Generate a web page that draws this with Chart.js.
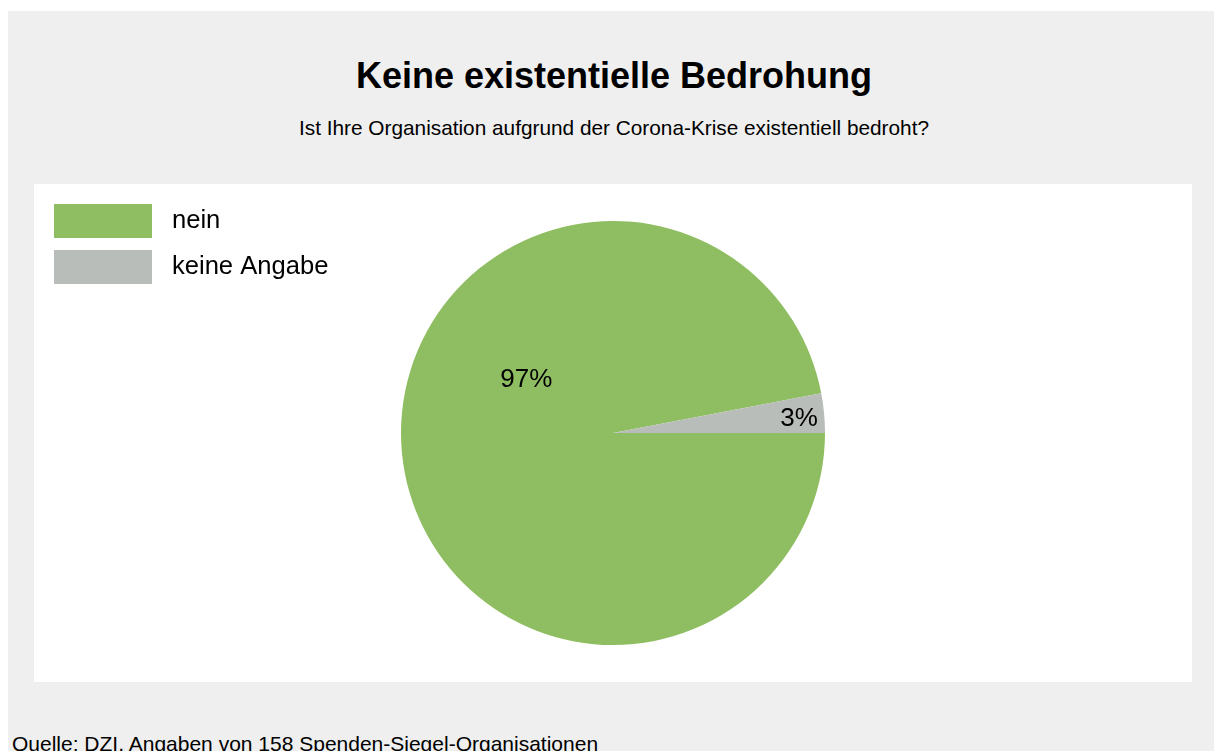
<!DOCTYPE html>
<html>
<head>
<meta charset="utf-8">
<script src="https://cdn.jsdelivr.net/npm/chart.js@4/dist/chart.umd.min.js"></script>
<style>
  html, body { margin: 0; padding: 0; background: #ffffff; overflow: hidden; }
  body { width: 1214px; height: 751px; position: relative; font-family: "Liberation Sans", Arial, sans-serif; }
  #panel { position: absolute; left: 8px; top: 11px; width: 1206px; height: 760px; background: #efefef; }
  #title { position: absolute; left: 0; width: 1228px; top: 56px; text-align: center; font-size: 36px; font-weight: bold; color: #000; margin: 0; line-height: 40px; }
  #subtitle { position: absolute; left: 0; width: 1228px; top: 116px; text-align: center; font-size: 20.8px; color: #000; margin: 0; line-height: 24px; }
  #plot { position: absolute; left: 34px; top: 184px; width: 1158px; height: 498px; background: #ffffff; }
  #source { position: absolute; left: 12px; top: 732px; font-size: 21px; color: #000; white-space: nowrap; line-height: 24px; }
</style>
</head>
<body>
<div id="panel"></div>
<h1 id="title">Keine existentielle Bedrohung</h1>
<p id="subtitle">Ist Ihre Organisation aufgrund der Corona-Krise existentiell bedroht?</p>
<div id="plot"><canvas id="chart" width="1158" height="498"></canvas></div>
<div id="source">Quelle: DZI, Angaben von 158 Spenden-Siegel-Organisationen</div>
<script>
  // --- DATA ---
  const categories = ['nein', 'keine Angabe'];
  const shares = [97, 3];
  const sliceColors = ['#8fbe62', '#b9bdba'];
  const valueLabels = ['97%', '3%'];

  // label placement inside each slice: fraction of radius and angle shift (deg)
  const labelPlacement = [
    { radius: 0.48, shift: 37 },
    { radius: 0.88, shift: 1 }
  ];

  const sliceLabels = {
    id: 'sliceLabels',
    afterDatasetsDraw(chart) {
      const ctx = chart.ctx;
      const meta = chart.getDatasetMeta(0);
      ctx.save();
      ctx.font = '26px "Liberation Sans", Arial, sans-serif';
      ctx.fillStyle = '#000';
      ctx.textAlign = 'center';
      ctx.textBaseline = 'middle';
      meta.data.forEach((arc, i) => {
        const p = arc.getProps(['x', 'y', 'startAngle', 'endAngle', 'outerRadius'], true);
        const mid = (p.startAngle + p.endAngle) / 2 + labelPlacement[i].shift * Math.PI / 180;
        const r = p.outerRadius * labelPlacement[i].radius;
        ctx.fillText(valueLabels[i], p.x + Math.cos(mid) * r, p.y + Math.sin(mid) * r);
      });
      ctx.restore();
    }
  };

  const defaultPieLabels = Chart.overrides.pie.plugins.legend.labels.generateLabels;

  new Chart(document.getElementById('chart'), {
    type: 'pie',
    data: {
      labels: categories,
      datasets: [{
        data: shares,
        backgroundColor: sliceColors,
        borderWidth: 0
      }]
    },
    options: {
      responsive: false,
      animation: false,
      rotation: 90,
      layout: { padding: { left: 8, right: 8, top: 37, bottom: 37 } },
      plugins: {
        tooltip: { enabled: false },
        legend: {
          position: 'chartArea',
          align: 'start',
          title: { display: true, text: '', padding: { top: 8, bottom: 0 }, font: { size: 0, lineHeight: 0 } },
          labels: {
            boxWidth: 98,
            boxHeight: 34,
            padding: 12,
            color: '#000',
            font: { family: '"Liberation Sans", Arial, sans-serif', size: 25.6 },
            // a little more gap between swatch and text
            generateLabels(chart) {
              return defaultPieLabels(chart).map(item => ({ ...item, text: ' ' + item.text }));
            }
          }
        }
      }
    },
    plugins: [sliceLabels]
  });
</script>
</body>
</html>
